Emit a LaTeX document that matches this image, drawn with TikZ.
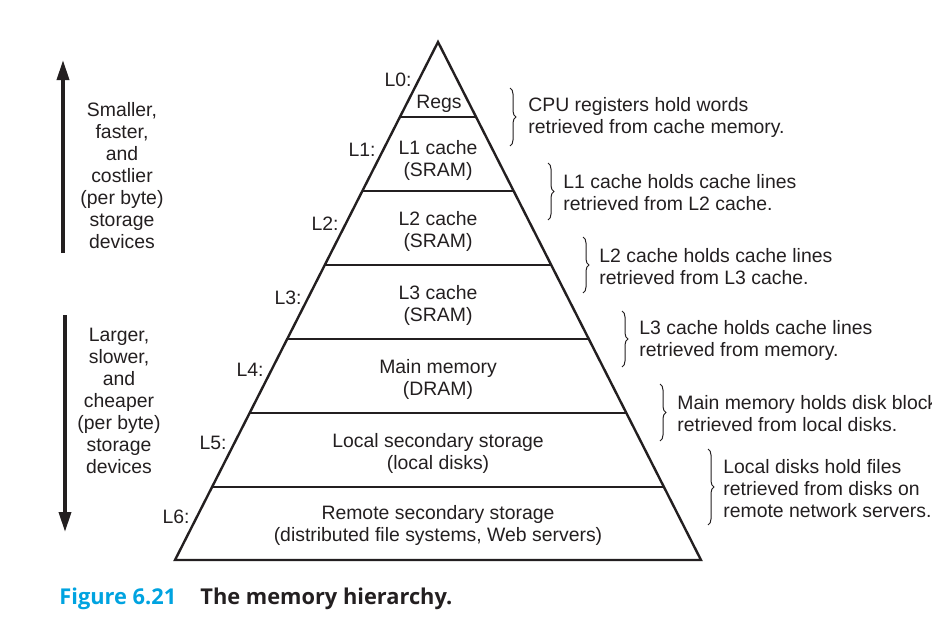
\documentclass[tikz,border=0pt]{standalone}
\usepackage{fontspec}
\setmainfont{Liberation Sans}
\newfontfamily\capfont{Open Sans}
\usetikzlibrary{calc,arrows.meta,decorations.pathreplacing}
\definecolor{ink}{RGB}{35,31,32}
\definecolor{capblue}{RGB}{0,163,224}
\tikzset{
  txt/.style={inner sep=0pt, align=center, yshift=-1pt, font=\fontsize{9.7}{11}\selectfont, text=ink},
  side/.style={inner sep=0pt, align=left, anchor=west, yshift=-0.6pt, font=\fontsize{9.7}{11}\selectfont, text=ink},
  lvl/.style={inner sep=0pt, anchor=east, yshift=-1pt, font=\fontsize{9.7}{11}\selectfont, text=ink},
  pyr/.style={draw=ink, line width=1.2pt, line join=miter},
  band/.style={draw=ink, line width=1.2pt},
  brc/.style={draw=ink, line width=0.5pt, decorate, decoration={brace, amplitude=3pt}},
  bigarrow/.style={draw=ink, line width=1.65pt, -{Triangle[length=10pt,width=6pt]}},
  captxt/.style={inner sep=0pt, anchor=base west, font=\capfont\bfseries\fontsize{10.9}{13}\selectfont},
}
\begin{document}
\begin{tikzpicture}[x=0.5pt,y=-0.5pt]
\useasboundingbox (0,0) rectangle (932,637);
% pyramid
\coordinate (A) at (438,42);
\coordinate (BL) at (175,560);
\coordinate (BR) at (701,560);
\draw[pyr] (A) -- (BL) -- (BR) -- cycle;
\foreach \t/\n in {0.1448/1,0.2876/2,0.4305/3,0.5734/4,0.7162/5,0.8591/6}{
  \coordinate (l\n) at ($(A)!\t!(BL)$);
  \coordinate (r\n) at ($(A)!\t!(BR)$);
  \draw[band] (l\n) -- (r\n);
}
% band texts
\node[txt] (regs) at (439,102) {Regs};
\node[txt] (c1) at (438,158) {L1 cache\\(SRAM)};
\node[txt] (c2) at (438,229) {L2 cache\\(SRAM)};
\node[txt] (c3) at (438,303) {L3 cache\\(SRAM)};
\node[txt] (mm) at (438,377) {Main memory\\(DRAM)};
\node[txt] (ld) at (438,451) {Local secondary storage\\(local disks)};
\node[txt] (rs) at (438,523) {Remote secondary storage\\(distributed file systems, Web servers)};
% level labels
\node[lvl] (L0) at (412,78) {L0:};
\node[lvl] (L1) at (376,148) {L1:};
\node[lvl] (L2) at (339,222) {L2:};
\node[lvl] (L3) at (302,296) {L3:};
\node[lvl] (L4) at (264,368) {L4:};
\node[lvl] (L5) at (227,441) {L5:};
\node[lvl] (L6) at (190,515) {L6:};
% braces
\coordinate (b1t) at (510,88);  \coordinate (b1b) at (510,146);
\coordinate (b2t) at (548,163); \coordinate (b2b) at (548,220);
\coordinate (b3t) at (583,237); \coordinate (b3b) at (583,293);
\coordinate (b4t) at (622,311); \coordinate (b4b) at (622,367);
\coordinate (b5t) at (660,384); \coordinate (b5b) at (660,441);
\coordinate (b6t) at (708,449); \coordinate (b6b) at (708,525);
\draw[brc] (b1t) -- (b1b);
\draw[brc] (b2t) -- (b2b);
\draw[brc] (b3t) -- (b3b);
\draw[brc] (b4t) -- (b4b);
\draw[brc] (b5t) -- (b5b);
\draw[brc] (b6t) -- (b6b);
\node[side] (s1) at (528,116) {CPU registers hold words\\retrieved from cache memory.};
\node[side] (s2) at (563,191) {L1 cache holds cache lines\\retrieved from L2 cache.};
\node[side] (s3) at (599,265) {L2 cache holds cache lines\\retrieved from L3 cache.};
\node[side] (s4) at (639,339) {L3 cache holds cache lines\\retrieved from memory.};
\node[side] (s5) at (677,412) {Main memory holds disk block\\retrieved from local disks.};
\node[side] (s6) at (723,487) {Local disks hold files\\retrieved from disks on\\remote network servers.};
% left arrows and texts
\coordinate (u0) at (63,253); \coordinate (u1) at (63,60);
\coordinate (d0) at (65,315); \coordinate (d1) at (65,532);
\draw[bigarrow] (u0) -- (u1);
\draw[bigarrow] (d0) -- (d1);
\node[txt] (up) at (122,174) {Smaller,\\faster,\\and\\costlier\\(per byte)\\storage\\devices};
\node[txt] (dn) at (119,399) {Larger,\\slower,\\and\\cheaper\\(per byte)\\storage\\devices};
% caption
\node[captxt, text=capblue] (fig) at (59,604) {Figure 6.21};
\node[captxt, text=ink] (cap) at (200,604) {The memory hierarchy.};
\end{tikzpicture}
\end{document}
